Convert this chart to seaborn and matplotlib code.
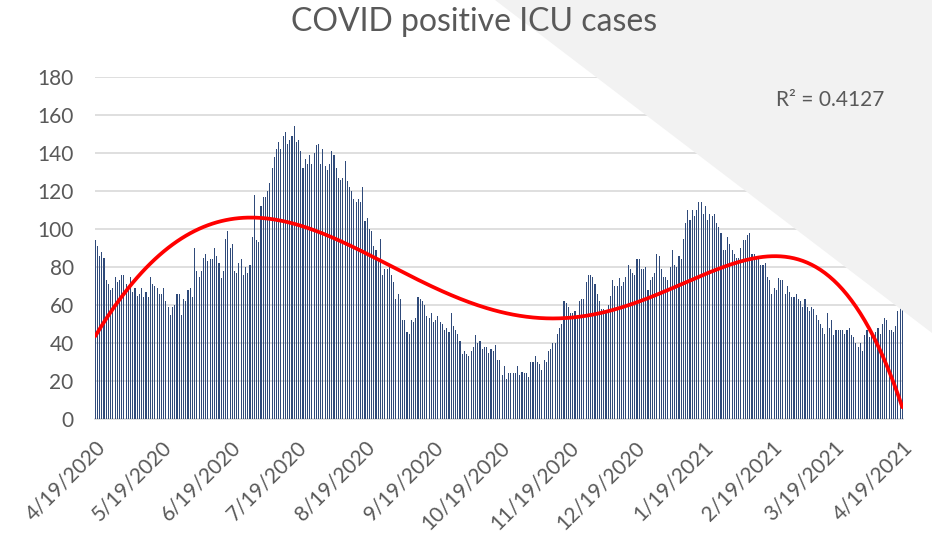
import numpy as np
import pandas as pd
import matplotlib
matplotlib.use("Agg")
import matplotlib.pyplot as plt
from matplotlib.patches import Polygon
import seaborn as sns

# ---------------- data ----------------
start_date = "2020-04-19"

icu_apr_jun = [94, 91, 86, 88, 85, 73, 71, 68, 69, 75, 72, 73, 76, 76, 71, 70, 75, 67, 69, 65,
               66, 69, 64, 67, 64, 75, 71, 70, 69, 66, 66, 69, 62, 59, 55, 59, 60, 66, 66, 55,
               63, 62, 68, 69, 64, 90, 78, 75, 78, 85, 87, 83, 84, 84, 90, 86, 82, 74, 78]
icu_jun_aug = [95, 99, 90, 92, 78, 77, 82, 84, 76, 80, 77, 81, 96, 118, 94, 93, 112, 117,
               117, 120, 124, 132, 138, 142, 146, 142, 149, 151, 145, 147, 149, 154, 146, 147,
               141, 132, 137, 134, 139, 134, 140, 144, 145, 134, 142, 133, 131, 134, 141, 139,
               132, 127, 126, 127, 136, 125, 122, 120, 116]
icu_aug_oct = [114, 116, 114, 122, 104, 106, 100, 99, 91, 89, 85, 95, 76, 79, 79, 80, 76, 72,
               63, 66, 63, 52, 52, 46, 45, 52, 51, 53, 64, 63, 62, 60, 54, 53, 56, 51, 52, 54,
               51, 50, 47, 48, 46, 56, 49, 47, 45, 41, 34, 36, 34, 33, 36, 38, 44, 40, 41, 37,
               38, 38, 35, 37, 36]
icu_oct_dec = [39, 31, 31, 23, 28, 21, 24, 24, 24, 24, 28, 23, 25, 24, 24, 22, 30, 30, 33, 30,
               29, 26, 31, 30, 36, 37, 40, 40, 45, 48, 50, 62, 61, 59, 56, 56, 57, 55, 62, 63,
               63, 72, 76, 76, 75, 71, 66, 62, 58, 58, 57, 60, 65, 73, 70, 70, 74, 70, 72, 75,
               81]
icu_dec_feb = [79, 77, 76, 84, 84, 79, 79, 80, 68, 73, 75, 77, 87, 86, 79, 75, 75, 73, 80, 89,
               81, 80, 86, 84, 95, 103, 110, 105, 110, 107, 110, 114, 114, 108, 112, 105, 108,
               107, 108, 103, 101, 98, 89, 89, 96, 92, 89, 87, 85, 85, 90, 94, 94, 97, 98, 87,
               87, 84, 86, 81, 81]
icu_feb_apr = [82, 75, 73, 66, 69, 68, 74, 73, 73, 66, 70, 67, 64, 64, 66, 63, 62, 59, 63, 59,
               57, 59, 58, 55, 52, 50, 48, 45, 56, 48, 52, 44, 47, 47, 47, 47, 45, 47, 48, 44,
               43, 40, 38, 40, 36, 44, 47, 43, 45, 44, 46, 48, 45, 50, 53, 52, 47, 47, 46, 49,
               57, 61, 63]

tick_labels = ["4/19/2020", "5/19/2020", "6/19/2020", "7/19/2020", "8/19/2020", "9/19/2020",
               "10/19/2020", "11/19/2020", "12/19/2020", "1/19/2021", "2/19/2021",
               "3/19/2021", "4/19/2021"]
r2_label = "R\u00b2 = 0.4127"
title = "COVID positive ICU cases"
trend_order = 5

icu = np.array(icu_apr_jun + icu_jun_aug + icu_aug_oct + icu_oct_dec + icu_dec_feb + icu_feb_apr,
               dtype=float)
dates = pd.date_range(start_date, periods=len(icu), freq="D")
day = np.arange(len(icu))
df = pd.DataFrame({"day": day, "icu": icu})

tick_days = [(pd.Timestamp(pd.to_datetime(t, format="%m/%d/%Y")) - dates[0]).days for t in tick_labels]

# polynomial trendline fitted to the data
coef = np.polyfit(day, icu, trend_order)
trend_df = pd.DataFrame({"day": day, "trend": np.polyval(coef, day)})

# ---------------- plot ----------------
sns.set_theme(style="white")
plt.rcParams["font.family"] = ["Lato", "DejaVu Sans"]

W, H = 932, 536
fig = plt.figure(figsize=(W / 100, H / 100), dpi=100)
fig.patch.set_facecolor("white")

# decorative grey triangle in the background
tri = Polygon([(495 / W, 1.0), (1.0, 1.0), (1.0, 1 - 333 / H)], closed=True,
              transform=fig.transFigure, facecolor="#F2F2F2", edgecolor="none", zorder=0)
fig.patches.append(tri)

left, right = 94.5 / W, 903 / W
bottom, top = 1 - 419 / H, 1 - 77 / H
ax = fig.add_axes([left, bottom, right - left, top - bottom])
ax.set_facecolor("none")

sns.barplot(data=df, x="day", y="icu", native_scale=True, color="#2F4A7A", saturation=1,
            width=0.5, linewidth=0, ax=ax, zorder=3)
sns.lineplot(data=trend_df, x="day", y="trend", color="#FF0000", linewidth=2.7, ax=ax,
             zorder=4)

ax.set_xlim(-0.3, len(icu) - 1 + 0.3)
ax.set_ylim(0, 180)
ax.set_yticks(np.arange(0, 181, 20))
ax.set_xticks(tick_days)
ax.set_xticklabels(tick_labels, rotation=45, ha="right", rotation_mode="anchor")
ax.set_xlabel("")
ax.set_ylabel("")

ax.grid(axis="y", color="#D9D9D9", linewidth=1.2, zorder=1)
ax.set_axisbelow(True)
for s in ["top", "right", "left"]:
    ax.spines[s].set_visible(False)
ax.spines["bottom"].set_color("#D9D9D9")
ax.spines["bottom"].set_linewidth(1.2)

ax.tick_params(axis="y", length=0, pad=15, labelsize=15, labelcolor="#595959")
ax.tick_params(axis="x", length=5, width=1.2, color="#D9D9D9", direction="out", pad=8,
               labelsize=15, labelcolor="#595959")

fig.text(474 / W, 1 - 22 / H, title, ha="center", va="center", fontsize=23, color="#595959")
fig.text(884 / W, 1 - 100 / H, r2_label, ha="right", va="center", fontsize=15, color="#595959")

fig.savefig("out.png", dpi=100)
